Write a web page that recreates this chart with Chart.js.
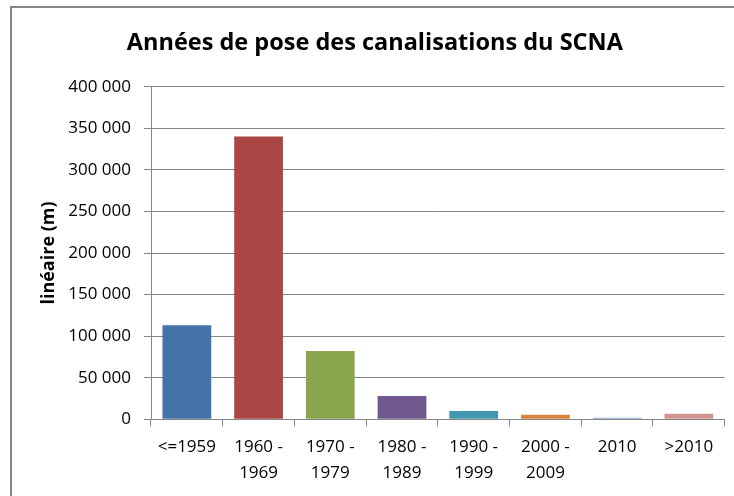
<!DOCTYPE html>
<html>
<head>
<meta charset="utf-8">
<script src="https://cdn.jsdelivr.net/npm/chart.js@4"></script>
<style>
  html, body { margin: 0; padding: 0; background: #fff; }
  #wrap { position: relative; width: 734px; height: 496px; }
</style>
</head>
<body>
<div id="wrap"><canvas id="chart"></canvas></div>
<script>
var TITLE = "Années de pose des canalisations du SCNA";
var Y_TITLE = "linéaire (m)";
var categories = [["<=1959"], ["1960 -", "1969"], ["1970 -", "1979"], ["1980 -", "1989"],
  ["1990 -", "1999"], ["2000 -", "2009"], ["2010"], [">2010"]];
var lengths = [113000, 340000, 82000, 28000, 10000, 5500, 1800, 6700];
var barColors = ["#4572A7", "#AA4643", "#89A54E", "#71588F", "#4198AF", "#DB843D", "#93A9CF", "#D19392"];
var yMin = 0, yMax = 400000, yStep = 50000;

(function () {
  "use strict";

  var GRID = "#868686";
  var FONT = "'Open Sans', sans-serif";

  function fmt(v) {
    return String(v).replace(/\B(?=(\d{3})+(?!\d))/g, " ");
  }

  // outer frame of the chart
  var frame = {
    id: "frame",
    beforeDraw: function (c) {
      var ctx = c.ctx;
      ctx.save();
      ctx.strokeStyle = GRID;
      ctx.lineWidth = 2;
      ctx.strokeRect(11, 7, 800, 600);
      ctx.restore();
    }
  };

  new Chart(document.getElementById("chart"), {
    type: "bar",
    data: {
      labels: categories,
      datasets: [{
        data: lengths,
        backgroundColor: barColors,
        borderWidth: 0,
        categoryPercentage: 1,
        barPercentage: 0.68
      }]
    },
    options: {
      responsive: true,
      maintainAspectRatio: false,
      animation: false,
      layout: { padding: { left: 25, right: 9.3, top: 0, bottom: 0 } },
      plugins: {
        legend: { display: false },
        tooltip: { enabled: false },
        title: {
          display: true,
          text: TITLE,
          color: "#000",
          font: { family: FONT, size: 23.5, weight: "bold", lineHeight: 1.2 },
          padding: { top: 29, bottom: 29.5 }
        }
      },
      scales: {
        x: {
          grid: { display: true, drawOnChartArea: false, offset: true, color: GRID, tickLength: 7, lineWidth: 1 },
          border: { display: true, color: GRID },
          ticks: {
            color: "#000",
            padding: 8,
            maxRotation: 0,
            autoSkip: false,
            font: { family: FONT, size: 17, lineHeight: 1.53 }
          },
          afterFit: function (s) { s.height = 496 - 419.3; }
        },
        y: {
          min: yMin,
          max: yMax,
          grid: { color: GRID, tickLength: 7 },
          border: { display: true, color: GRID },
          ticks: {
            stepSize: yStep,
            color: "#000",
            padding: 13,
            font: { family: FONT, size: 17 },
            callback: function (v) { return fmt(v); }
          },
          title: {
            display: true,
            text: Y_TITLE,
            color: "#000",
            font: { family: FONT, size: 18, weight: "bold", lineHeight: 1.2 },
            padding: { top: 13, bottom: 0 }
          },
          afterFit: function (s) { s.width = 151 - 25; }
        }
      }
    },
    plugins: [frame]
  });
})();
</script>
</body>
</html>
